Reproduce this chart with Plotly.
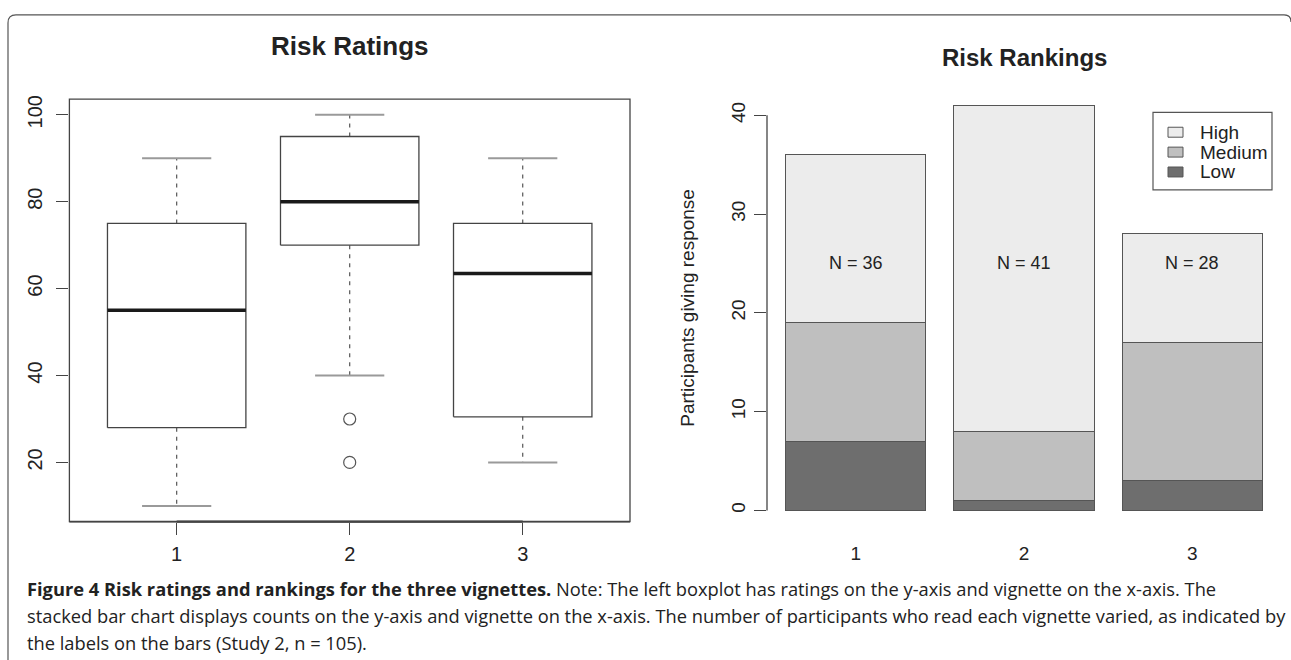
import plotly.graph_objects as go

# ---- data -------------------------------------------------------------
vignettes = [1, 2, 3]
vignette_labels = ["1", "2", "3"]

# Risk ratings: five-number summaries per vignette
rating_lower = [10, 40, 20]
rating_q1 = [28, 70, 30.5]
rating_median = [55, 80, 63.5]
rating_q3 = [75, 95, 75]
rating_upper = [90, 100, 90]
outlier_x = [2, 2]
outlier_y = [30, 20]
rating_ticks = [20, 40, 60, 80, 100]

# Risk rankings: counts per vignette, stacked
rank_names = ["Low", "Medium", "High"]
rank_low = [7, 1, 3]
rank_medium = [12, 7, 14]
rank_high = [17, 33, 11]
rank_colors = {"Low": "#6e6e6e", "Medium": "#bfbfbf", "High": "#ececec"}
rank_ticks = [0, 10, 20, 30, 40]

# ---- geometry helpers -------------------------------------------------
W, H = 1291, 660


def px(x):
    return x / W


def py(y):
    return 1 - y / H


R_FONT = "Liberation Sans, Arial, sans-serif"
INK = "#222222"
LINE = "#444444"

fig = go.Figure()

# ---- left panel: boxplots --------------------------------------------
HALF_BOX = 0.4
HALF_CAP = 0.2

box_x, box_y = [], []
med_x, med_y = [], []
wh_x, wh_y = [], []
cap_x, cap_y = [], []
for i, v in enumerate(vignettes):
    box_x += [v - HALF_BOX, v + HALF_BOX, v + HALF_BOX, v - HALF_BOX, v - HALF_BOX, None]
    box_y += [rating_q1[i], rating_q1[i], rating_q3[i], rating_q3[i], rating_q1[i], None]
    med_x += [v - HALF_BOX, v + HALF_BOX, None]
    med_y += [rating_median[i], rating_median[i], None]
    wh_x += [v, v, None, v, v, None]
    wh_y += [rating_q3[i], rating_upper[i], None, rating_q1[i], rating_lower[i], None]
    cap_x += [v - HALF_CAP, v + HALF_CAP, None, v - HALF_CAP, v + HALF_CAP, None]
    cap_y += [rating_upper[i], rating_upper[i], None, rating_lower[i], rating_lower[i], None]

fig.add_trace(go.Scatter(x=wh_x, y=wh_y, mode="lines", xaxis="x", yaxis="y",
                         line=dict(color="#555555", width=1.2, dash="4px,5px"),
                         showlegend=False, hoverinfo="skip"))
fig.add_trace(go.Scatter(x=cap_x, y=cap_y, mode="lines", xaxis="x", yaxis="y",
                         line=dict(color="#9a9a9a", width=2),
                         showlegend=False, hoverinfo="skip"))
fig.add_trace(go.Scatter(x=box_x, y=box_y, mode="lines", xaxis="x", yaxis="y",
                         line=dict(color=LINE, width=1.3),
                         showlegend=False, hoverinfo="skip"))
fig.add_trace(go.Scatter(x=med_x, y=med_y, mode="lines", xaxis="x", yaxis="y",
                         line=dict(color="#1a1a1a", width=3.5),
                         showlegend=False, hoverinfo="skip"))
fig.add_trace(go.Scatter(x=outlier_x, y=outlier_y, mode="markers", xaxis="x", yaxis="y",
                         marker=dict(symbol="circle-open", size=12,
                                     color="#555555", line=dict(width=1.2)),
                         showlegend=False, hoverinfo="skip"))

# ---- right panel: stacked bars ---------------------------------------
rank_values = {"Low": rank_low, "Medium": rank_medium, "High": rank_high}
BAR_W = 1 / 1.2
for name in rank_names:
    fig.add_trace(go.Bar(x=vignettes, y=rank_values[name], name=name,
                         width=BAR_W, xaxis="x2", yaxis="y2",
                         marker=dict(color=rank_colors[name],
                                     line=dict(color="#555555", width=1)),
                         showlegend=False, hoverinfo="skip"))

totals = [a + b + c for a, b, c in zip(rank_low, rank_medium, rank_high)]

annotations = []
for v, n in zip(vignettes, totals):
    annotations.append(dict(x=v, y=25, xref="x2", yref="y2", text=f"N = {n}",
                            showarrow=False, xanchor="center", yanchor="middle",
                            font=dict(family=R_FONT, size=18, color=INK)))

# titles
annotations.append(dict(x=px(350), y=py(42), xref="paper", yref="paper",
                        text="<b>Risk Ratings</b>", showarrow=False,
                        xanchor="center", yanchor="middle",
                        font=dict(family=R_FONT, size=26, color=INK)))
annotations.append(dict(x=px(1024), y=py(54), xref="paper", yref="paper",
                        text="<b>Risk Rankings</b>", showarrow=False,
                        xanchor="center", yanchor="middle",
                        font=dict(family=R_FONT, size=24, color=INK)))

# legend (drawn by hand to keep R's compact spacing)
shapes = []
shapes.append(dict(type="rect", xref="paper", yref="paper",
                   x0=px(1153), x1=px(1272), y0=py(187), y1=py(109),
                   line=dict(color="#555555", width=1.2), fillcolor="white"))
for k, name in enumerate(reversed(rank_names)):
    yc = 129 + 20 * k
    shapes.append(dict(type="rect", xref="paper", yref="paper",
                       x0=px(1168), x1=px(1183), y0=py(yc + 5), y1=py(yc - 5),
                       line=dict(color="#555555", width=1), fillcolor=rank_colors[name]))
    annotations.append(dict(x=px(1198), y=py(yc), xref="paper", yref="paper",
                            text=name, showarrow=False, xanchor="left", yanchor="middle",
                            font=dict(family=R_FONT, size=19, color=INK)))

# left plot frame and axis lines
shapes.append(dict(type="rect", xref="x domain", yref="y domain", x0=0, x1=1, y0=0, y1=1,
                   line=dict(color=LINE, width=1.3)))
shapes.append(dict(type="line", xref="x", yref="y domain", x0=vignettes[0], x1=vignettes[-1],
                   y0=0, y1=0, line=dict(color=LINE, width=2.2)))
shapes.append(dict(type="line", xref="x domain", yref="y domain", x0=0, x1=1,
                   y0=0, y1=0, line=dict(color=LINE, width=1.8)))
# right y axis line spans the tick range only
shapes.append(dict(type="line", xref="x2 domain", yref="y2", x0=0, x1=0,
                   y0=rank_ticks[0], y1=rank_ticks[-1], line=dict(color=LINE, width=1.3)))

# outer rounded frame
frame = (f"M {px(8)},{py(660)} L {px(8)},{py(19)} Q {px(8)},{py(11)} {px(16)},{py(11)} "
         f"L {px(1284)},{py(11)} Q {px(1291)},{py(11)} {px(1291)},{py(18)}")
shapes.append(dict(type="path", xref="paper", yref="paper", path=frame,
                   line=dict(color="#555555", width=1.2)))

# caption
CAP_FONT = "Open Sans, Noto Sans, sans-serif"
caption_lines = [
    "<b>Figure 4 Risk ratings and rankings for the three vignettes.</b> Note: The left boxplot "
    "has ratings on the y-axis and vignette on the x-axis. The",
    "stacked bar chart displays counts on the y-axis and vignette on the x-axis. The number of "
    "participants who read each vignette varied, as indicated by",
    "the labels on the bars (Study 2, n = 105).",
]
for k, line in enumerate(caption_lines):
    annotations.append(dict(x=px(25), y=py(588 + 27 * k), xref="paper", yref="paper",
                            text=line, showarrow=False, xanchor="left", yanchor="middle",
                            font=dict(family=CAP_FONT, size=18.3, color=INK)))

fig.update_layout(
    width=W, height=H,
    margin=dict(l=0, r=0, t=0, b=0),
    paper_bgcolor="white", plot_bgcolor="rgba(0,0,0,0)",
    showlegend=False,
    barmode="stack",
    xaxis=dict(domain=[px(69.4), px(630)], range=[0.38, 3.62],
               tickvals=vignettes, ticktext=vignette_labels,
               ticks="outside", ticklen=12, tickwidth=1.3, tickcolor=LINE,
               showline=False, showgrid=False, zeroline=False, ticklabelstandoff=2,
               tickfont=dict(family=R_FONT, size=20, color=INK)),
    yaxis=dict(domain=[py(520.7), py(95.7)], range=[6.4, 103.6],
               tickvals=rating_ticks, tickangle=-90,
               ticks="outside", ticklen=12, tickwidth=1.3, tickcolor=LINE,
               showline=False, showgrid=False, zeroline=False, ticklabelstandoff=6,
               tickfont=dict(family=R_FONT, size=20, color=INK)),
    xaxis2=dict(domain=[px(767), 1], range=[0.4724, 3.586], anchor="y2",
                tickvals=vignettes, ticktext=vignette_labels, ticks="",
                showline=False, showgrid=False, zeroline=False, ticklabelstandoff=13,
                tickfont=dict(family=R_FONT, size=19, color=INK)),
    yaxis2=dict(domain=[py(525.8), py(85.7)], range=[-1.64, 42.64], anchor="x2",
                tickvals=rank_ticks, tickangle=-90,
                ticks="outside", ticklen=12, tickwidth=1.3, tickcolor=LINE,
                showline=False, showgrid=False, zeroline=False, ticklabelstandoff=1,
                title=dict(text="Participants giving response", standoff=28,
                           font=dict(family=R_FONT, size=19, color=INK)),
                tickfont=dict(family=R_FONT, size=19, color=INK)),
    annotations=annotations,
    shapes=shapes,
)

fig.write_html("out.html")
